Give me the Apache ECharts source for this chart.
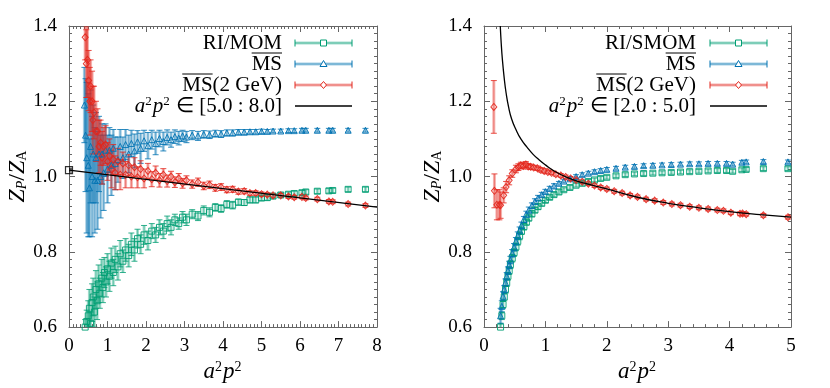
<!DOCTYPE html>
<html><head><meta charset="utf-8">
<script src="https://cdn.jsdelivr.net/npm/echarts@6/dist/echarts.min.js"></script>
<style>html,body{margin:0;padding:0;background:#fff}#c{width:830px;height:388px}</style>
</head><body><div id="c"></div>
<script>
// ---------- DATA (x = a^2 p^2, y = Z_P/Z_A, err) ----------
const L_MOM = [[0.42,0.600,0.02],[0.46,0.615,0.03],[0.50,0.630,0.04],[0.53,0.650,0.05],[0.56,0.610,0.03],[0.60,0.665,0.05],[0.63,0.680,0.05],[0.66,0.640,0.04],[0.70,0.700,0.05],[0.73,0.670,0.05],[0.77,0.715,0.05],[0.80,0.690,0.04],[0.85,0.730,0.05],[0.88,0.705,0.04],[0.92,0.745,0.04],[0.96,0.720,0.04],[1.00,0.755,0.04],[1.05,0.735,0.04],[1.10,0.770,0.04],[1.15,0.745,0.035],[1.20,0.780,0.035],[1.27,0.760,0.035],[1.33,0.795,0.035],[1.40,0.775,0.03],[1.47,0.805,0.03],[1.55,0.790,0.03],[1.62,0.820,0.03],[1.70,0.805,0.03],[1.78,0.835,0.025],[1.86,0.820,0.025],[1.95,0.845,0.025],[2.05,0.830,0.025],[2.15,0.855,0.02],[2.25,0.845,0.02],[2.35,0.865,0.02],[2.45,0.855,0.02],[2.55,0.875,0.02],[2.65,0.865,0.02],[2.75,0.885,0.015],[2.85,0.875,0.015],[2.95,0.892,0.015],[3.05,0.885,0.015],[3.20,0.900,0.012],[3.35,0.895,0.012],[3.50,0.910,0.012],[3.65,0.905,0.012],[3.80,0.918,0.01],[3.95,0.915,0.01],[4.10,0.926,0.01],[4.25,0.924,0.01],[4.40,0.932,0.008],[4.55,0.931,0.008],[4.70,0.938,0.008],[4.85,0.938,0.008],[5.00,0.943,0.007],[5.15,0.944,0.007],[5.30,0.948,0.006],[5.50,0.951,0.006],[5.70,0.953,0.006],[5.85,0.955,0.006],[6.05,0.957,0.006],[6.15,0.959,0.006],[6.45,0.961,0.006],[6.75,0.962,0.006],[6.85,0.963,0.006],[7.25,0.966,0.006],[7.70,0.966,0.006]];
const L_MS = [[0.40,1.190,0.10],[0.43,1.110,0.15],[0.46,1.050,0.20],[0.50,1.030,0.19],[0.53,0.970,0.13],[0.56,1.080,0.15],[0.60,1.000,0.16],[0.63,1.060,0.13],[0.67,0.990,0.14],[0.70,1.050,0.12],[0.74,0.990,0.13],[0.78,1.060,0.10],[0.82,1.000,0.11],[0.86,1.060,0.08],[0.90,1.010,0.10],[0.95,1.070,0.07],[1.00,1.020,0.09],[1.05,1.070,0.06],[1.10,1.030,0.08],[1.15,1.075,0.05],[1.20,1.035,0.07],[1.27,1.045,0.06],[1.33,1.080,0.045],[1.40,1.050,0.055],[1.47,1.085,0.04],[1.55,1.060,0.05],[1.62,1.088,0.035],[1.70,1.068,0.045],[1.78,1.092,0.03],[1.86,1.075,0.04],[1.95,1.095,0.028],[2.05,1.082,0.035],[2.15,1.098,0.025],[2.25,1.088,0.03],[2.35,1.101,0.022],[2.45,1.093,0.025],[2.55,1.104,0.02],[2.65,1.098,0.02],[2.75,1.106,0.018],[2.85,1.102,0.018],[2.95,1.108,0.015],[3.05,1.105,0.015],[3.20,1.110,0.012],[3.35,1.108,0.012],[3.50,1.112,0.01],[3.65,1.111,0.01],[3.80,1.114,0.009],[3.95,1.113,0.009],[4.10,1.116,0.008],[4.25,1.116,0.008],[4.40,1.118,0.007],[4.55,1.118,0.007],[4.70,1.119,0.006],[4.85,1.119,0.006],[5.00,1.120,0.006],[5.15,1.120,0.005],[5.30,1.121,0.005],[5.50,1.121,0.005],[5.70,1.122,0.005],[5.85,1.122,0.005],[6.05,1.123,0.005],[6.15,1.123,0.005],[6.45,1.123,0.005],[6.75,1.123,0.005],[6.85,1.123,0.005],[7.25,1.123,0.005],[7.70,1.123,0.005]];
const L_MS2 = [[0.42,1.370,0.06],[0.45,1.300,0.09],[0.48,1.310,0.10],[0.51,1.255,0.08],[0.54,1.200,0.09],[0.56,1.240,0.07],[0.60,1.200,0.08],[0.62,1.150,0.09],[0.65,1.170,0.07],[0.70,1.120,0.08],[0.74,1.120,0.06],[0.78,1.080,0.07],[0.82,1.090,0.06],[0.86,1.050,0.07],[0.90,1.080,0.05],[0.95,1.085,0.05],[1.00,1.040,0.05],[1.05,1.055,0.045],[1.10,1.020,0.05],[1.15,1.045,0.04],[1.20,1.010,0.045],[1.27,1.040,0.035],[1.33,1.005,0.04],[1.40,1.035,0.03],[1.47,1.005,0.035],[1.55,1.030,0.028],[1.62,1.000,0.03],[1.70,1.025,0.025],[1.78,0.998,0.028],[1.86,1.020,0.022],[1.95,0.995,0.025],[2.05,1.015,0.02],[2.15,0.993,0.02],[2.25,1.010,0.018],[2.35,0.990,0.018],[2.45,1.005,0.016],[2.55,0.988,0.016],[2.65,1.000,0.014],[2.75,0.985,0.014],[2.85,0.995,0.013],[2.95,0.982,0.013],[3.05,0.990,0.012],[3.20,0.980,0.011],[3.35,0.985,0.011],[3.50,0.975,0.01],[3.65,0.978,0.01],[3.80,0.970,0.009],[3.95,0.972,0.009],[4.10,0.965,0.008],[4.25,0.966,0.008],[4.40,0.960,0.007],[4.55,0.961,0.007],[4.70,0.956,0.006],[4.85,0.956,0.006],[5.00,0.953,0.006],[5.15,0.952,0.005],[5.30,0.950,0.005],[5.50,0.950,0.005],[5.70,0.947,0.005],[5.85,0.945,0.005],[6.05,0.946,0.005],[6.15,0.943,0.005],[6.45,0.940,0.005],[6.75,0.934,0.005],[6.85,0.933,0.005],[7.25,0.927,0.005],[7.70,0.923,0.005]];
const L_FIT = [[0,1.017],[8,0.919]];
const L_EXTRAP = [[0,1.017,0.005]];

const R_SMOM = [[0.27,0.600,0.01],[0.29,0.630,0.01],[0.31,0.660,0.01],[0.33,0.680,0.01],[0.35,0.700,0.01],[0.37,0.718,0.01],[0.39,0.735,0.01],[0.41,0.750,0.01],[0.43,0.766,0.01],[0.46,0.783,0.01],[0.49,0.798,0.01],[0.52,0.813,0.01],[0.55,0.828,0.01],[0.58,0.842,0.01],[0.61,0.855,0.009],[0.65,0.867,0.009],[0.69,0.879,0.008],[0.73,0.890,0.008],[0.78,0.901,0.008],[0.83,0.911,0.007],[0.88,0.920,0.007],[0.94,0.929,0.007],[1.00,0.937,0.006],[1.07,0.945,0.006],[1.14,0.952,0.006],[1.22,0.959,0.006],[1.30,0.965,0.005],[1.40,0.971,0.005],[1.50,0.977,0.005],[1.60,0.982,0.005],[1.70,0.987,0.005],[1.80,0.991,0.005],[1.90,0.995,0.005],[2.00,0.998,0.005],[2.15,1.002,0.005],[2.30,1.005,0.005],[2.45,1.007,0.005],[2.60,1.008,0.005],[2.75,1.009,0.005],[2.90,1.010,0.005],[3.05,1.011,0.005],[3.20,1.012,0.005],[3.35,1.013,0.005],[3.50,1.014,0.005],[3.65,1.015,0.005],[3.80,1.016,0.005],[3.95,1.016,0.005],[4.05,1.014,0.005],[4.20,1.018,0.005],[4.27,1.019,0.005],[4.55,1.021,0.005],[4.95,1.021,0.005]];
const R_MS = [[0.27,0.630,0.02],[0.29,0.655,0.015],[0.31,0.682,0.012],[0.33,0.700,0.01],[0.35,0.718,0.01],[0.37,0.735,0.01],[0.39,0.750,0.01],[0.41,0.765,0.01],[0.43,0.778,0.01],[0.46,0.796,0.01],[0.49,0.812,0.01],[0.52,0.828,0.01],[0.55,0.843,0.01],[0.58,0.857,0.009],[0.61,0.870,0.009],[0.65,0.886,0.008],[0.69,0.900,0.008],[0.73,0.911,0.008],[0.78,0.923,0.007],[0.83,0.934,0.007],[0.88,0.943,0.007],[0.94,0.952,0.006],[1.00,0.960,0.006],[1.07,0.968,0.006],[1.14,0.975,0.006],[1.22,0.982,0.005],[1.30,0.988,0.005],[1.40,0.994,0.005],[1.50,1.000,0.005],[1.60,1.005,0.005],[1.70,1.009,0.005],[1.80,1.013,0.005],[1.90,1.016,0.005],[2.00,1.019,0.005],[2.15,1.022,0.005],[2.30,1.025,0.005],[2.45,1.027,0.005],[2.60,1.029,0.005],[2.75,1.030,0.005],[2.90,1.031,0.005],[3.05,1.032,0.005],[3.20,1.033,0.005],[3.35,1.034,0.005],[3.50,1.034,0.005],[3.65,1.035,0.005],[3.80,1.035,0.005],[3.95,1.035,0.005],[4.05,1.033,0.005],[4.20,1.038,0.005],[4.27,1.039,0.005],[4.55,1.040,0.005],[4.95,1.039,0.005]];
const R_MS2 = [[0.16,1.185,0.07],[0.17,0.962,0.045],[0.21,0.925,0.04],[0.25,0.925,0.04],[0.27,0.924,0.035],[0.32,0.950,0.02],[0.36,0.972,0.015],[0.41,0.990,0.012],[0.46,1.008,0.01],[0.52,1.020,0.01],[0.56,1.025,0.009],[0.60,1.030,0.008],[0.64,1.028,0.008],[0.68,1.032,0.008],[0.72,1.027,0.007],[0.76,1.026,0.007],[0.81,1.024,0.006],[0.87,1.022,0.006],[0.92,1.018,0.006],[0.98,1.015,0.006],[1.04,1.012,0.005],[1.10,1.010,0.005],[1.17,1.006,0.005],[1.25,1.003,0.005],[1.33,0.999,0.005],[1.41,0.995,0.005],[1.50,0.991,0.005],[1.60,0.986,0.005],[1.70,0.981,0.005],[1.80,0.976,0.005],[1.90,0.971,0.005],[2.00,0.967,0.005],[2.12,0.961,0.005],[2.25,0.956,0.005],[2.38,0.950,0.005],[2.50,0.946,0.005],[2.64,0.940,0.005],[2.78,0.936,0.005],[2.92,0.931,0.005],[3.06,0.927,0.005],[3.20,0.924,0.005],[3.35,0.920,0.005],[3.50,0.917,0.005],[3.65,0.914,0.005],[3.80,0.911,0.005],[3.90,0.909,0.005],[4.02,0.904,0.005],[4.17,0.901,0.005],[4.21,0.902,0.005],[4.27,0.900,0.005],[4.55,0.897,0.005],[4.95,0.892,0.005]];
const R_FIT = [[0.265,1.40],[0.28,1.355],[0.30,1.31],[0.33,1.26],[0.36,1.222],[0.40,1.185],[0.45,1.153],[0.52,1.125],[0.60,1.100],[0.70,1.078],[0.80,1.059],[0.90,1.044],[1.00,1.031],[1.13,1.016],[1.35,0.998],[1.62,0.983],[2.00,0.967],[2.50,0.945],[3.00,0.929],[3.50,0.917],[4.00,0.907],[4.50,0.899],[5.00,0.892]];

const X_TICKS_L = [0,1,2,3,4,5,6,7,8];
const X_TICKS_R = [0,1,2,3,4,5];
const Y_TICKS = ['0.6','0.8','1.0','1.2','1.4'];
const LEG_L = ['RI/MOM','MS','MS(2 GeV)','[5.0 : 8.0]'];
const LEG_R = ['RI/SMOM','MS','MS(2 GeV)','[2.0 : 5.0]'];

// ---------- STYLE ----------
const FONT = 'Liberation Serif';
const LFS = 21;
const GREEN = '#009e73', BLUE = '#0072b2', RED = '#e3261c';
const GREEN_L = 'rgba(0,158,115,0.35)', BLUE_L = 'rgba(0,114,178,0.35)', RED_L = 'rgba(227,38,28,0.35)';
const AX = '#666';

function errSeries(data, dark, light, xi, yi) {
  return {
    type: 'custom', xAxisIndex: xi, yAxisIndex: yi, data: data, clip: true, silent: true, z: 2,
    encode: { x: 0, y: 1 },
    renderItem: function (params, api) {
      const x = api.value(0), y = api.value(1), e = api.value(2);
      const t = api.coord([x, y + e]), b = api.coord([x, y - e]);
      const hw = 3;
      return { type: 'group', children: [
        { type: 'line', shape: { x1: t[0], y1: t[1], x2: b[0], y2: b[1] }, style: { stroke: light, lineWidth: 3 } },
        { type: 'line', shape: { x1: t[0], y1: t[1], x2: b[0], y2: b[1] }, style: { stroke: dark, lineWidth: 0.6, opacity: 0.7 } },
        { type: 'line', shape: { x1: t[0] - hw, y1: t[1], x2: t[0] + hw, y2: t[1] }, style: { stroke: dark, lineWidth: 1, opacity: 0.8 } },
        { type: 'line', shape: { x1: b[0] - hw, y1: b[1], x2: b[0] + hw, y2: b[1] }, style: { stroke: dark, lineWidth: 1, opacity: 0.8 } }
      ]};
    }
  };
}
function markSeries(data, color, symbol, size, xi, yi) {
  return {
    type: 'scatter', xAxisIndex: xi, yAxisIndex: yi, data: data.map(d => [d[0], d[1]]),
    symbol: symbol, symbolSize: size, clip: true, silent: true, z: 3,
    itemStyle: { color: 'rgba(255,255,255,0)', borderColor: color, borderWidth: 1, opacity: 0.9 }
  };
}

function richSet(big, small) {
  return {
    i: { fontFamily: FONT, fontSize: big, fontStyle: 'italic', color: '#000' },
    sup: { fontFamily: FONT, fontSize: small, fontStyle: 'normal', verticalAlign: 'top', color: '#000', padding: [0, 1, 0, 0] },
    sub: { fontFamily: FONT, fontSize: small, fontStyle: 'italic', verticalAlign: 'bottom', color: '#000' },
    subA: { fontFamily: FONT, fontSize: small, verticalAlign: 'bottom', color: '#000' },
    n: { fontFamily: FONT, fontSize: big, color: '#000' }
  };
}

function xAxes(gi, max, minorSplit, ticks) {
  const common = {
    type: 'value', gridIndex: gi, min: 0, max: max, interval: 1,
    axisLine: { show: true, onZero: false, lineStyle: { color: AX, width: 1 } },
    axisTick: { show: true, inside: true, length: 6, lineStyle: { color: AX } },
    minorTick: { show: true, splitNumber: minorSplit, length: 3, lineStyle: { color: AX } },
    splitLine: { show: false }
  };
  return [
    Object.assign({}, common, {
      position: 'bottom',
      axisLabel: { show: true, margin: 9, fontFamily: FONT, fontSize: 19, color: '#000',
        formatter: v => (ticks.indexOf(Math.round(v)) >= 0 ? String(Math.round(v)) : '') },
      name: '{i|a}{sup|2}{i|p}{sup|2}', nameLocation: 'middle', nameGap: 26,
      nameTextStyle: { fontFamily: FONT, fontSize: 23, rich: richSet(23, 14) }
    }),
    Object.assign({}, common, { position: 'top', axisLabel: { show: false } })
  ];
}
function yAxes(gi) {
  const common = {
    type: 'value', gridIndex: gi, min: 0.6, max: 1.4, interval: 0.2,
    axisLine: { show: true, onZero: false, lineStyle: { color: AX, width: 1 } },
    axisTick: { show: true, inside: true, length: 6, lineStyle: { color: AX } },
    minorTick: { show: true, splitNumber: 10, length: 3, lineStyle: { color: AX } },
    splitLine: { show: false }
  };
  return [
    Object.assign({}, common, {
      position: 'left',
      axisLabel: { show: true, margin: 12, fontFamily: FONT, fontSize: 19, color: '#000',
        formatter: v => { const s = v.toFixed(1); return Y_TICKS.indexOf(s) >= 0 ? s : ''; } },
      name: '{i|Z}{sub|P}{n|/}{i|Z}{subA|A}', nameLocation: 'middle', nameGap: 38, nameRotate: 90,
      nameTextStyle: { fontFamily: FONT, fontSize: 24, rich: richSet(24, 14) }
    }),
    Object.assign({}, common, { position: 'right', axisLabel: { show: false } })
  ];
}

// ---------- LEGEND (graphic) ----------
const ctx = document.createElement('canvas').getContext('2d');
ctx.font = LFS + 'px "' + FONT + '"';
function tw(s) { return ctx.measureText(s).width; }

function legend(xr, lx1, lx2, labels) {
  const rows = [43, 64, 85, 106];
  const els = [];
  const mx = (lx1 + lx2) / 2;
  const cols = [[GREEN, GREEN_L], [BLUE, BLUE_L], [RED, RED_L]];
  const font = LFS + 'px "' + FONT + '"';
  els.push({ type: 'text', x: xr, y: rows[0], style: { text: labels[0], font: font, fill: '#000', align: 'right', verticalAlign: 'middle' } });
  els.push({ type: 'text', x: xr, y: rows[1], style: { text: labels[1], font: font, fill: '#000', align: 'right', verticalAlign: 'middle' } });
  const w1 = tw(labels[1]);
  els.push({ type: 'line', shape: { x1: xr - w1, y1: rows[1] - 11, x2: xr, y2: rows[1] - 11 }, style: { stroke: '#000', lineWidth: 1 } });
  els.push({ type: 'text', x: xr, y: rows[2], style: { text: labels[2], font: font, fill: '#000', align: 'right', verticalAlign: 'middle' } });
  const w2 = tw(labels[2]), w2a = tw('MS');
  els.push({ type: 'line', shape: { x1: xr - w2, y1: rows[2] - 11, x2: xr - w2 + w2a, y2: rows[2] - 11 }, style: { stroke: '#000', lineWidth: 1 } });
  els.push({ type: 'text', x: xr, y: rows[3], style: {
    text: '{i|a}{sup|2}{i|p}{sup|2}{n| ∈ ' + labels[3] + '}', align: 'right', verticalAlign: 'middle',
    rich: richSet(LFS, 13) } });
  const syms = ['rect', 'tri', 'dia'];
  for (let k = 0; k < 3; k++) {
    const y = rows[k], c = cols[k][0], cl = cols[k][1];
    els.push({ type: 'line', shape: { x1: lx1, y1: y, x2: lx2, y2: y }, style: { stroke: cl, lineWidth: 3 } });
    els.push({ type: 'line', shape: { x1: lx1, y1: y, x2: lx2, y2: y }, style: { stroke: c, lineWidth: 0.7, opacity: 0.7 } });
    els.push({ type: 'line', shape: { x1: lx1, y1: y - 3.5, x2: lx1, y2: y + 3.5 }, style: { stroke: c, lineWidth: 1 } });
    els.push({ type: 'line', shape: { x1: lx2, y1: y - 3.5, x2: lx2, y2: y + 3.5 }, style: { stroke: c, lineWidth: 1 } });
    if (syms[k] === 'rect') els.push({ type: 'rect', shape: { x: mx - 3, y: y - 3, width: 6, height: 6 }, style: { fill: '#fff', stroke: c, lineWidth: 1 } });
    if (syms[k] === 'tri') els.push({ type: 'polygon', shape: { points: [[mx, y - 3.5], [mx - 3.5, y + 2.5], [mx + 3.5, y + 2.5]] }, style: { fill: '#fff', stroke: c, lineWidth: 1 } });
    if (syms[k] === 'dia') els.push({ type: 'polygon', shape: { points: [[mx, y - 3.5], [mx + 3, y], [mx, y + 3.5], [mx - 3, y]] }, style: { fill: '#fff', stroke: c, lineWidth: 1 } });
  }
  els.push({ type: 'line', shape: { x1: lx1, y1: rows[3], x2: lx2, y2: rows[3] }, style: { stroke: '#000', lineWidth: 1.3 } });
  return els;
}

const chart = echarts.init(document.getElementById('c'), null, { renderer: 'canvas' });
const xl = xAxes(0, 8, 10, X_TICKS_L), xr = xAxes(1, 5, 5, X_TICKS_R);
const yl = yAxes(0), yr = yAxes(1);

const option = {
  animation: false,
  backgroundColor: '#fff',
  grid: [
    { left: 69, top: 26, width: 308, height: 305, containLabel: false },
    { left: 484, top: 26, width: 307, height: 305, containLabel: false }
  ],
  xAxis: [xl[0], xl[1], xr[0], xr[1]],
  yAxis: [yl[0], yl[1], yr[0], yr[1]],
  series: [
    errSeries(L_MOM, GREEN, GREEN_L, 0, 0), markSeries(L_MOM, GREEN, 'rect', 6, 0, 0),
    errSeries(L_MS, BLUE, BLUE_L, 0, 0), markSeries(L_MS, BLUE, 'triangle', 6, 0, 0),
    errSeries(L_MS2, RED, RED_L, 0, 0), markSeries(L_MS2, RED, 'diamond', [6, 7], 0, 0),
    { type: 'line', xAxisIndex: 0, yAxisIndex: 0, data: L_FIT, showSymbol: false, silent: true, z: 4,
      lineStyle: { color: '#000', width: 1.3 } },
    errSeries(L_EXTRAP, '#000', 'rgba(0,0,0,0.3)', 0, 0),
    { type: 'scatter', xAxisIndex: 0, yAxisIndex: 0, data: L_EXTRAP.map(d => [d[0], d[1]]), symbol: 'rect', symbolSize: 7, z: 5, clip: false,
      itemStyle: { color: 'rgba(255,255,255,0)', borderColor: '#000', borderWidth: 1.2 } },

    errSeries(R_SMOM, GREEN, GREEN_L, 2, 2), markSeries(R_SMOM, GREEN, 'rect', 6, 2, 2),
    errSeries(R_MS, BLUE, BLUE_L, 2, 2), markSeries(R_MS, BLUE, 'triangle', 6, 2, 2),
    errSeries(R_MS2, RED, RED_L, 2, 2), markSeries(R_MS2, RED, 'diamond', [6, 7], 2, 2),
    { type: 'line', xAxisIndex: 2, yAxisIndex: 2, data: R_FIT, showSymbol: false, smooth: 0.5, silent: true, z: 4, clip: true,
      lineStyle: { color: '#000', width: 1.3 } }
  ],
  graphic: legend(282, 295, 352, LEG_L).concat(legend(696, 710, 767, LEG_R))
};
chart.setOption(option);
</script>
</body></html>
